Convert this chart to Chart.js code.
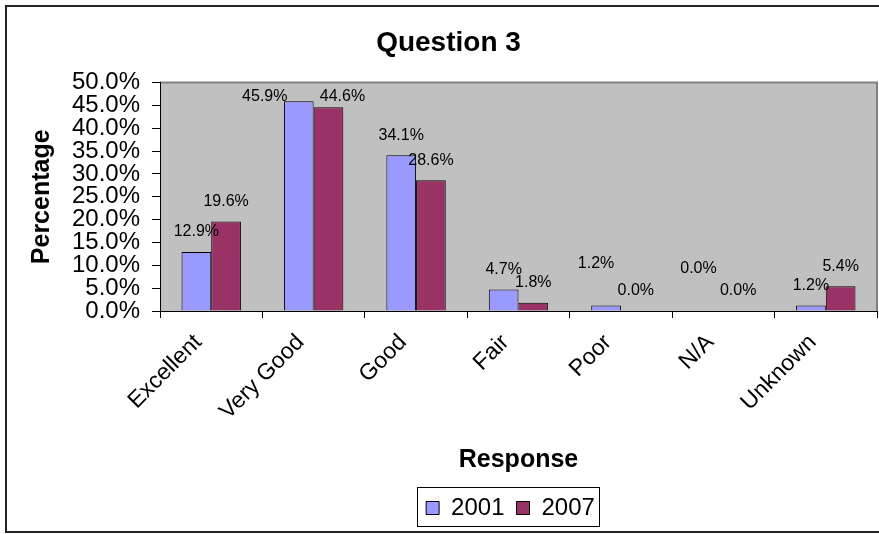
<!DOCTYPE html>
<html>
<head>
<meta charset="utf-8">
<script src="https://cdn.jsdelivr.net/npm/chart.js@4"></script>
<style>
  body { margin: 0; background: #fff; }
</style>
</head>
<body>
<canvas id="grafico" width="879" height="534"></canvas>
<script>
var categorias = ['Excellent', 'Very Good', 'Good', 'Fair', 'Poor', 'N/A', 'Unknown']
var anos = ['2001', '2007']
var valores2001 = [12.9, 45.9, 34.1, 4.7, 1.2, 0.0, 1.2]
var valores2007 = [19.6, 44.6, 28.6, 1.8, 0.0, 0.0, 5.4]
var yTicks = [0, 5, 10, 15, 20, 25, 30, 35, 40, 45, 50]

// fundo, area cinza e moldura
var fundo = {
  id: 'fundo',
  beforeDraw: function (chart) {
    var c = chart.ctx, a = chart.chartArea
    c.save()
    c.fillStyle = '#fff'
    c.fillRect(0, 0, chart.width, chart.height)
    c.fillStyle = '#C0C0C0'
    c.fillRect(a.left, a.top, a.right - a.left, a.bottom - a.top)
    c.strokeStyle = '#808080'
    c.lineWidth = 2
    c.beginPath()
    c.moveTo(a.left, a.top)
    c.lineTo(a.right, a.top)
    c.lineTo(a.right, a.bottom)
    c.stroke()
    c.strokeStyle = '#222'
    c.lineWidth = 2
    c.beginPath()
    c.moveTo(chart.width + 2, 6)
    c.lineTo(6, 6)
    c.lineTo(6, 532)
    c.lineTo(chart.width + 2, 532)
    c.stroke()
    c.restore()
  }
}

// desloca titulo e legenda como no original
var deslocar = {
  id: 'deslocar',
  afterLayout: function (chart) {
    chart.titleBlock.left += 10
    chart.titleBlock.right += 10
    chart.legend.left += 72
    chart.legend.right += 72
  }
}

// rotulos de valor sobre as barras (com desvio quando se sobrepoem)
var rotulos = {
  id: 'rotulos',
  afterDatasetsDraw: function (chart) {
    var c = chart.ctx
    var topo = chart.chartArea.top + 14
    var m0 = chart.getDatasetMeta(0).data
    var m1 = chart.getDatasetMeta(1).data
    var d0 = chart.data.datasets[0].data
    var d1 = chart.data.datasets[1].data
    c.save()
    c.font = '16px Arial, "Liberation Sans"'
    c.fillStyle = '#000'
    c.textAlign = 'center'
    c.textBaseline = 'middle'
    for (var j = 0; j < m0.length; j++) {
      var x0 = m0[j].x, x1 = m1[j].x
      var y0 = Math.max(m0[j].y - 20, topo)
      var y1 = Math.max(m1[j].y - 20, topo)
      if (Math.abs(y0 - y1) < 12) {
        if (y0 - 22 >= topo) {
          y0 -= 22
          x0 -= 10
        } else {
          x0 -= 34
          x1 += 14
        }
      }
      c.fillText(d0[j].toFixed(1) + '%', x0, y0)
      c.fillText(d1[j].toFixed(1) + '%', x1, y1)
    }
    c.restore()
  }
}

// caixa em volta da legenda
var caixaLegenda = {
  id: 'caixaLegenda',
  afterDraw: function (chart) {
    var lg = chart.legend, c = chart.ctx
    var pad = 12
    var w = lg.lineWidths[0]
    var inicio = (lg.left + pad + lg.right - w) / 2
    c.save()
    c.strokeStyle = '#000'
    c.lineWidth = 1
    c.strokeRect(Math.round(inicio - 9) + 0.5, Math.round(lg.top + 3) + 0.5, Math.round(w - pad + 13), 39)
    c.restore()
  }
}

var ctx = document.getElementById('grafico').getContext('2d')

var grafico = new Chart(ctx, {
  type: 'bar',
  data: {
    labels: categorias,
    datasets: [
      {
        label: anos[0],
        data: valores2001,
        backgroundColor: '#9999FF',
        borderColor: '#000',
        borderWidth: 1,
      },
      {
        label: anos[1],
        data: valores2007,
        backgroundColor: '#993366',
        borderColor: '#000',
        borderWidth: 1,
      },
    ],
  },
  options: {
    responsive: false,
    animation: false,
    layout: { padding: { left: 0, right: 2, top: 0, bottom: 4 } },
    datasets: {
      bar: { categoryPercentage: 0.58, barPercentage: 1 }
    },
    plugins: {
      title: {
        display: true,
        text: 'Question 3',
        color: '#000',
        font: { size: 28, weight: 'bold', family: 'Arial, "Liberation Sans"' },
        padding: { top: 26, bottom: 23 },
      },
      legend: {
        position: 'bottom',
        labels: {
          color: '#000',
          boxWidth: 13,
          boxHeight: 13,
          padding: 12,
          font: { size: 24, family: 'Arial, "Liberation Sans"' },
        },
      },
      tooltip: { enabled: false },
    },
    scales: {
      y: {
        min: 0,
        max: 50,
        afterBuildTicks: function (s) {
          s.ticks = yTicks.map(function (v) { return { value: v } })
        },
        afterFit: function (s) { s.width = 160 },
        ticks: {
          color: '#000',
          padding: 12,
          autoSkip: false,
          font: { size: 24, family: 'Arial, "Liberation Sans"' },
          callback: function (v) { return v.toFixed(1) + '%' },
        },
        grid: { drawOnChartArea: false, drawTicks: true, tickLength: 8, color: '#000' },
        border: { color: '#000', width: 1 },
        title: {
          display: true,
          text: 'Percentage',
          color: '#000',
          font: { size: 25, weight: 'bold', family: 'Arial, "Liberation Sans"' },
          padding: { top: 27, bottom: 0 },
        },
      },
      x: {
        afterFit: function (s) { s.height = 173 },
        ticks: {
          color: '#000',
          minRotation: 45,
          maxRotation: 45,
          padding: 11,
          labelOffset: -13,
          autoSkip: false,
          font: { size: 23, family: 'Arial, "Liberation Sans"' },
        },
        grid: { drawOnChartArea: false, drawTicks: true, tickLength: 7, color: '#000' },
        border: { color: '#000', width: 1 },
        title: {
          display: true,
          text: 'Response',
          color: '#000',
          font: { size: 25, weight: 'bold', family: 'Arial, "Liberation Sans"' },
          padding: { top: 0, bottom: 9 },
        },
      },
    },
  },
  plugins: [fundo, deslocar, rotulos, caixaLegenda],
})
</script>
</body>
</html>
